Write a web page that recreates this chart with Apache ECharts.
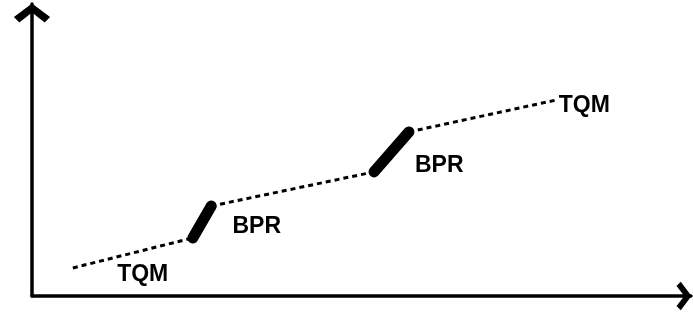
<!DOCTYPE html>
<meta charset="utf-8">
<style>
html, body { margin: 0; padding: 0; background: #fff; }
#main { width: 693px; height: 320px; }
</style>
<div id="main"></div>
<script src="https://cdn.jsdelivr.net/npm/echarts@6/dist/echarts.min.js"></script>
<script>
// dotted TQM stretches and the steep BPR jumps, in axis units (0..100)
var tqmSegments = [
    [[6.2, 9.6], [24.4, 19.9]],
    [[27.2, 30.8], [51.9, 42.5]],
    [[57.2, 56.2], [79.5, 67.1]]
];
var bprSegments = [
    [[24.4, 19.9], [27.2, 30.8]],
    [[51.9, 42.5], [57.2, 56.2]]
];
var labelNames = ['TQM', 'BPR', 'BPR', 'TQM'];
var labelPoints = [[16.8, 7.4], [34.1, 23.6], [61.8, 44.5], [83.8, 65.2]];

var chevron = 'path://M0,15 L20,0 L40,15 L34,21 L20,10 L6,21 Z';

var chart = echarts.init(document.getElementById('main'));

var series = [];
tqmSegments.forEach(function (seg) {
    series.push({
        type: 'line',
        data: seg,
        symbol: 'none',
        lineStyle: { color: '#000', width: 3, type: [5, 4] },
        z: 2
    });
});
bprSegments.forEach(function (seg) {
    series.push({
        type: 'line',
        data: seg,
        symbol: 'none',
        lineStyle: { color: '#000', width: 11, cap: 'round' },
        z: 3
    });
});
series.push({
    type: 'scatter',
    symbolSize: 0,
    itemStyle: { opacity: 1 },
    data: labelPoints.map(function (p, i) {
        return { name: labelNames[i], value: p };
    }),
    label: {
        show: true,
        position: 'inside',
        formatter: '{b}',
        color: '#000',
        opacity: 1,
        fontFamily: 'Liberation Sans',
        fontWeight: 'bold',
        fontSize: 23
    },
    z: 4
});

chart.setOption({
    animation: false,
    grid: { left: 32, right: 2, top: 4, bottom: 24 },
    xAxis: {
        type: 'value', min: 0, max: 100,
        axisLine: {
            lineStyle: { color: '#000', width: 3.5 },
            symbol: ['none', chevron],
            symbolSize: [32, 15],
            symbolOffset: [0, -7]
        },
        axisTick: { show: false },
        axisLabel: { show: false },
        splitLine: { show: false }
    },
    yAxis: {
        type: 'value', min: 0, max: 100,
        axisLine: {
            lineStyle: { color: '#000', width: 3.5 },
            symbol: ['none', chevron],
            symbolSize: [42, 19],
            symbolOffset: [0, -9]
        },
        axisTick: { show: false },
        axisLabel: { show: false },
        splitLine: { show: false }
    },
    series: series
});
</script>
